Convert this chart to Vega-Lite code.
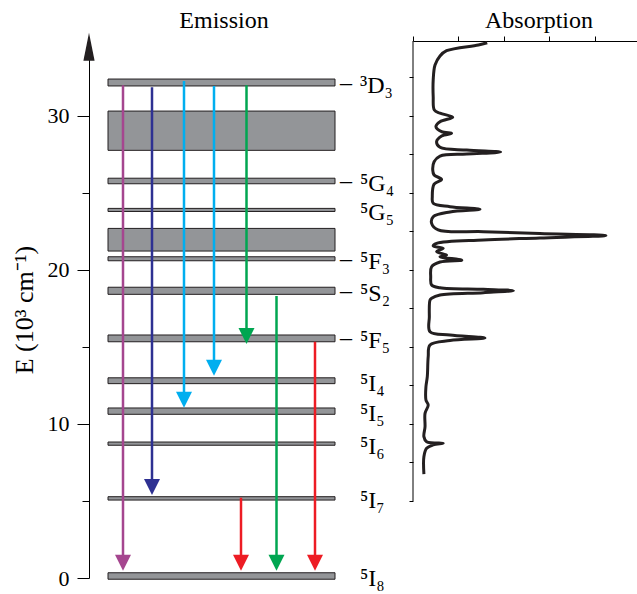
{
  "$schema": "https://vega.github.io/schema/vega-lite/v6.json",
  "background": "white",
  "padding": {"left": 11, "top": 8, "right": 0, "bottom": 3},
  "bounds": "flush",
  "spacing": 74,
  "config": {
    "view": {"stroke": null},
    "font": "Liberation Serif",
    "axis": {"domainColor": "black", "tickColor": "black", "labelColor": "black", "titleColor": "black", "labelFont": "Liberation Serif", "titleFont": "Liberation Serif", "grid": false, "titleFontWeight": "normal"},
    "title": {"font": "Liberation Serif", "fontWeight": "normal", "fontSize": 24, "color": "black"}
  },
  "datasets": {
    "levels": [
      {"name": "³D₃", "E": 32.17, "lo": 31.95, "hi": 32.40, "dash": true},
      {"name": "", "E": 29.05, "lo": 27.77, "hi": 30.32, "dash": false},
      {"name": "⁵G₄", "E": 25.78, "lo": 25.60, "hi": 25.96, "dash": true},
      {"name": "⁵G₅", "E": 23.90, "lo": 23.80, "hi": 24.00, "dash": false},
      {"name": "", "E": 21.97, "lo": 21.23, "hi": 22.70, "dash": false},
      {"name": "⁵F₃", "E": 20.73, "lo": 20.60, "hi": 20.86, "dash": true},
      {"name": "⁵S₂", "E": 18.65, "lo": 18.42, "hi": 18.88, "dash": true},
      {"name": "⁵F₅", "E": 15.56, "lo": 15.34, "hi": 15.78, "dash": true},
      {"name": "⁵I₄", "E": 12.81, "lo": 12.62, "hi": 13.00, "dash": false},
      {"name": "⁵I₅", "E": 10.84, "lo": 10.63, "hi": 11.04, "dash": false},
      {"name": "⁵I₆", "E": 8.72, "lo": 8.62, "hi": 8.83, "dash": false},
      {"name": "⁵I₇", "E": 5.17, "lo": 5.06, "hi": 5.28, "dash": false},
      {"name": "⁵I₈", "E": 0.13, "lo": -0.08, "hi": 0.34, "dash": false}
    ],
    "arrows": [
      {"transition": "³D₃→⁵I₈", "pos": 1.36, "from": 32.0, "to": 0.47},
      {"transition": "³D₃→⁵I₇", "pos": 2.52, "from": 31.86, "to": 5.39},
      {"transition": "³D₃→⁵I₅", "pos": 3.8, "from": 32.27, "to": 11.06},
      {"transition": "³D₃→⁵I₄", "pos": 5.0, "from": 31.95, "to": 13.14},
      {"transition": "³D₃→⁵F₅", "pos": 6.3, "from": 32.0, "to": 15.19},
      {"transition": "⁵S₂→⁵I₈", "pos": 7.5, "from": 18.31, "to": 0.47},
      {"transition": "⁵F₅→⁵I₈", "pos": 9.04, "from": 15.34, "to": 0.47},
      {"transition": "⁵I₇→⁵I₈", "pos": 6.08, "from": 5.21, "to": 0.47}
    ],
    "spectrum": [
      {"i": 1, "absorbance": 3.27, "E": 34.76},
      {"i": 2, "absorbance": 2.88, "E": 34.61},
      {"i": 3, "absorbance": 1.48, "E": 34.24},
      {"i": 4, "absorbance": 1.19, "E": 33.90},
      {"i": 5, "absorbance": 0.97, "E": 33.31},
      {"i": 6, "absorbance": 0.89, "E": 32.34},
      {"i": 7, "absorbance": 0.89, "E": 31.25},
      {"i": 8, "absorbance": 0.94, "E": 30.39},
      {"i": 9, "absorbance": 1.19, "E": 30.18},
      {"i": 10, "absorbance": 1.75, "E": 29.92},
      {"i": 11, "absorbance": 1.19, "E": 29.63},
      {"i": 12, "absorbance": 1.01, "E": 29.31},
      {"i": 13, "absorbance": 1.26, "E": 28.98},
      {"i": 14, "absorbance": 1.70, "E": 28.88},
      {"i": 15, "absorbance": 1.26, "E": 28.70},
      {"i": 16, "absorbance": 1.04, "E": 28.33},
      {"i": 17, "absorbance": 1.19, "E": 27.97},
      {"i": 18, "absorbance": 2.37, "E": 27.79},
      {"i": 19, "absorbance": 3.86, "E": 27.66},
      {"i": 20, "absorbance": 2.37, "E": 27.53},
      {"i": 21, "absorbance": 1.19, "E": 27.40},
      {"i": 22, "absorbance": 0.93, "E": 27.03},
      {"i": 23, "absorbance": 0.87, "E": 26.49},
      {"i": 24, "absorbance": 0.93, "E": 26.17},
      {"i": 25, "absorbance": 1.26, "E": 25.88},
      {"i": 26, "absorbance": 0.93, "E": 25.58},
      {"i": 27, "absorbance": 0.85, "E": 24.76},
      {"i": 28, "absorbance": 0.89, "E": 24.33},
      {"i": 29, "absorbance": 1.63, "E": 24.11},
      {"i": 30, "absorbance": 2.95, "E": 23.94},
      {"i": 31, "absorbance": 1.63, "E": 23.77},
      {"i": 32, "absorbance": 0.89, "E": 23.46},
      {"i": 33, "absorbance": 0.82, "E": 23.03},
      {"i": 34, "absorbance": 1.11, "E": 22.60},
      {"i": 35, "absorbance": 3.10, "E": 22.49},
      {"i": 36, "absorbance": 5.59, "E": 22.37},
      {"i": 37, "absorbance": 8.50, "E": 22.24},
      {"i": 38, "absorbance": 5.59, "E": 22.08},
      {"i": 39, "absorbance": 3.10, "E": 21.95},
      {"i": 40, "absorbance": 1.04, "E": 21.73},
      {"i": 41, "absorbance": 0.89, "E": 21.56},
      {"i": 42, "absorbance": 1.33, "E": 21.41},
      {"i": 43, "absorbance": 1.04, "E": 21.19},
      {"i": 44, "absorbance": 1.48, "E": 20.97},
      {"i": 45, "absorbance": 1.19, "E": 20.86},
      {"i": 46, "absorbance": 2.15, "E": 20.64},
      {"i": 47, "absorbance": 1.19, "E": 20.52},
      {"i": 48, "absorbance": 0.82, "E": 20.21},
      {"i": 49, "absorbance": 0.78, "E": 19.56},
      {"i": 50, "absorbance": 0.82, "E": 19.03},
      {"i": 51, "absorbance": 1.19, "E": 18.85},
      {"i": 52, "absorbance": 3.10, "E": 18.75},
      {"i": 53, "absorbance": 4.42, "E": 18.66},
      {"i": 54, "absorbance": 3.10, "E": 18.53},
      {"i": 55, "absorbance": 1.19, "E": 18.38},
      {"i": 56, "absorbance": 0.82, "E": 18.16},
      {"i": 57, "absorbance": 0.75, "E": 18.05},
      {"i": 58, "absorbance": 0.72, "E": 16.97},
      {"i": 59, "absorbance": 0.75, "E": 15.99},
      {"i": 60, "absorbance": 1.63, "E": 15.78},
      {"i": 61, "absorbance": 3.17, "E": 15.58},
      {"i": 62, "absorbance": 1.63, "E": 15.42},
      {"i": 63, "absorbance": 0.75, "E": 15.13},
      {"i": 64, "absorbance": 0.67, "E": 14.37},
      {"i": 65, "absorbance": 0.63, "E": 13.07},
      {"i": 66, "absorbance": 0.57, "E": 12.42},
      {"i": 67, "absorbance": 0.57, "E": 11.56},
      {"i": 68, "absorbance": 0.67, "E": 11.23},
      {"i": 69, "absorbance": 0.53, "E": 10.69},
      {"i": 70, "absorbance": 0.53, "E": 9.82},
      {"i": 71, "absorbance": 0.48, "E": 9.18},
      {"i": 72, "absorbance": 0.60, "E": 8.85},
      {"i": 73, "absorbance": 1.33, "E": 8.75},
      {"i": 74, "absorbance": 0.89, "E": 8.64},
      {"i": 75, "absorbance": 0.60, "E": 8.42},
      {"i": 76, "absorbance": 0.48, "E": 7.88},
      {"i": 77, "absorbance": 0.48, "E": 6.75}
    ]
  },
  "hconcat": [
    {
      "width": 250,
      "height": 537,
      "title": {"text": "Emission", "anchor": "middle", "frame": "group", "dx": 10, "offset": 0},
      "layer": [
        {
          "data": {"name": "levels"},
          "mark": {"type": "rect", "fill": "#939598", "stroke": "#231f20", "strokeWidth": 1},
          "encoding": {
            "x": {"datum": 0.76, "type": "quantitative", "scale": {"domain": [0, 10], "nice": false, "zero": false}, "axis": null},
            "x2": {"datum": 9.84},
            "y": {"field": "lo", "type": "quantitative", "scale": {"domain": [0, 34.87], "nice": false, "zero": false},
              "axis": {"title": "E (10³ cm⁻¹)", "titleFontSize": 26, "titlePadding": 10, "values": [0, 5, 10, 15, 20, 25, 30],
                "labelExpr": "datum.value % 10 === 0 ? datum.label : ''", "labelFontSize": 22, "labelPadding": 8,
                "tickSize": {"condition": {"test": "datum.value % 10 !== 0", "value": 7}, "value": 12}}},
            "y2": {"field": "hi"}
          }
        },
        {
          "data": {"name": "arrows"},
          "mark": {"type": "rule", "strokeWidth": 2.5, "y2Offset": -10},
          "encoding": {
            "x": {"field": "pos", "type": "quantitative"},
            "y": {"field": "from", "type": "quantitative"},
            "y2": {"field": "to"},
            "color": {"field": "transition", "type": "nominal", "legend": null,
              "scale": {"domain": ["³D₃→⁵I₈", "³D₃→⁵I₇", "³D₃→⁵I₅", "³D₃→⁵I₄", "³D₃→⁵F₅", "⁵S₂→⁵I₈", "⁵F₅→⁵I₈", "⁵I₇→⁵I₈"],
                "range": ["#A5468F", "#2E3192", "#00AEEF", "#00AEEF", "#00A651", "#00A651", "#ED1C24", "#ED1C24"]}}
          }
        },
        {
          "data": {"name": "arrows"},
          "mark": {"type": "point", "filled": true, "opacity": 1, "strokeWidth": 0, "size": 256, "shape": "M0,0L-1,-2L1,-2Z"},
          "encoding": {
            "x": {"field": "pos", "type": "quantitative"},
            "y": {"field": "to", "type": "quantitative"},
            "color": {"field": "transition", "type": "nominal", "legend": null}
          }
        },
        {
          "data": {"values": [{"axis": "E"}]},
          "mark": {"type": "point", "filled": true, "opacity": 1, "strokeWidth": 0, "size": 784, "shape": "M0,0L-0.4,2L0.4,2Z", "color": "#231f20"},
          "encoding": {
            "x": {"datum": 0, "type": "quantitative"},
            "y": {"datum": 35.4, "type": "quantitative"}
          }
        },
        {
          "data": {"name": "levels"},
          "transform": [{"filter": "datum.dash"}],
          "mark": {"type": "text", "text": "–", "align": "left", "baseline": "middle", "fontSize": 24, "font": "Liberation Serif", "color": "black"},
          "encoding": {
            "x": {"datum": 10.04, "type": "quantitative"},
            "y": {"field": "E", "type": "quantitative"}
          }
        },
        {
          "data": {"name": "levels"},
          "transform": [{"filter": "datum.name !== ''"}],
          "mark": {"type": "text", "align": "left", "baseline": "middle", "fontSize": 24, "font": "Liberation Serif", "color": "black", "dy": 3},
          "encoding": {
            "x": {"datum": 10.84, "type": "quantitative"},
            "y": {"field": "E", "type": "quantitative"},
            "text": {"field": "name"}
          }
        }
      ]
    },
    {
      "width": 224,
      "height": 537,
      "title": {"text": "Absorption", "anchor": "middle", "frame": "group", "dx": 14, "offset": 3},
      "layer": [
        {
          "data": {"name": "spectrum"},
          "mark": {"type": "line", "interpolate": "catmull-rom", "color": "#231f20", "strokeWidth": 3},
          "encoding": {
            "x": {"field": "absorbance", "type": "quantitative", "scale": {"domain": [0, 9.87], "nice": false, "zero": false},
              "axis": {"orient": "top", "values": [0, 1, 2, 3, 4, 5, 6, 7, 8, 9], "labels": false, "tickSize": 5, "title": null, "domain": true}},
            "y": {"field": "E", "type": "quantitative", "scale": {"domain": [0, 34.87], "nice": false, "zero": false},
              "axis": {"values": [5, 7.5, 10, 12.5, 15, 17.5, 20, 22.5, 25, 27.5, 30, 32.5], "labels": false, "domain": false, "tickSize": 4, "title": null}},
            "order": {"field": "i", "type": "quantitative"}
          }
        },
        {
          "data": {"values": [{"axis": "E"}]},
          "mark": {"type": "rule", "color": "black", "strokeWidth": 1},
          "encoding": {
            "x": {"datum": 0, "type": "quantitative"},
            "y": {"datum": 5, "type": "quantitative"},
            "y2": {"datum": 34.87}
          }
        }
      ]
    }
  ]
}
